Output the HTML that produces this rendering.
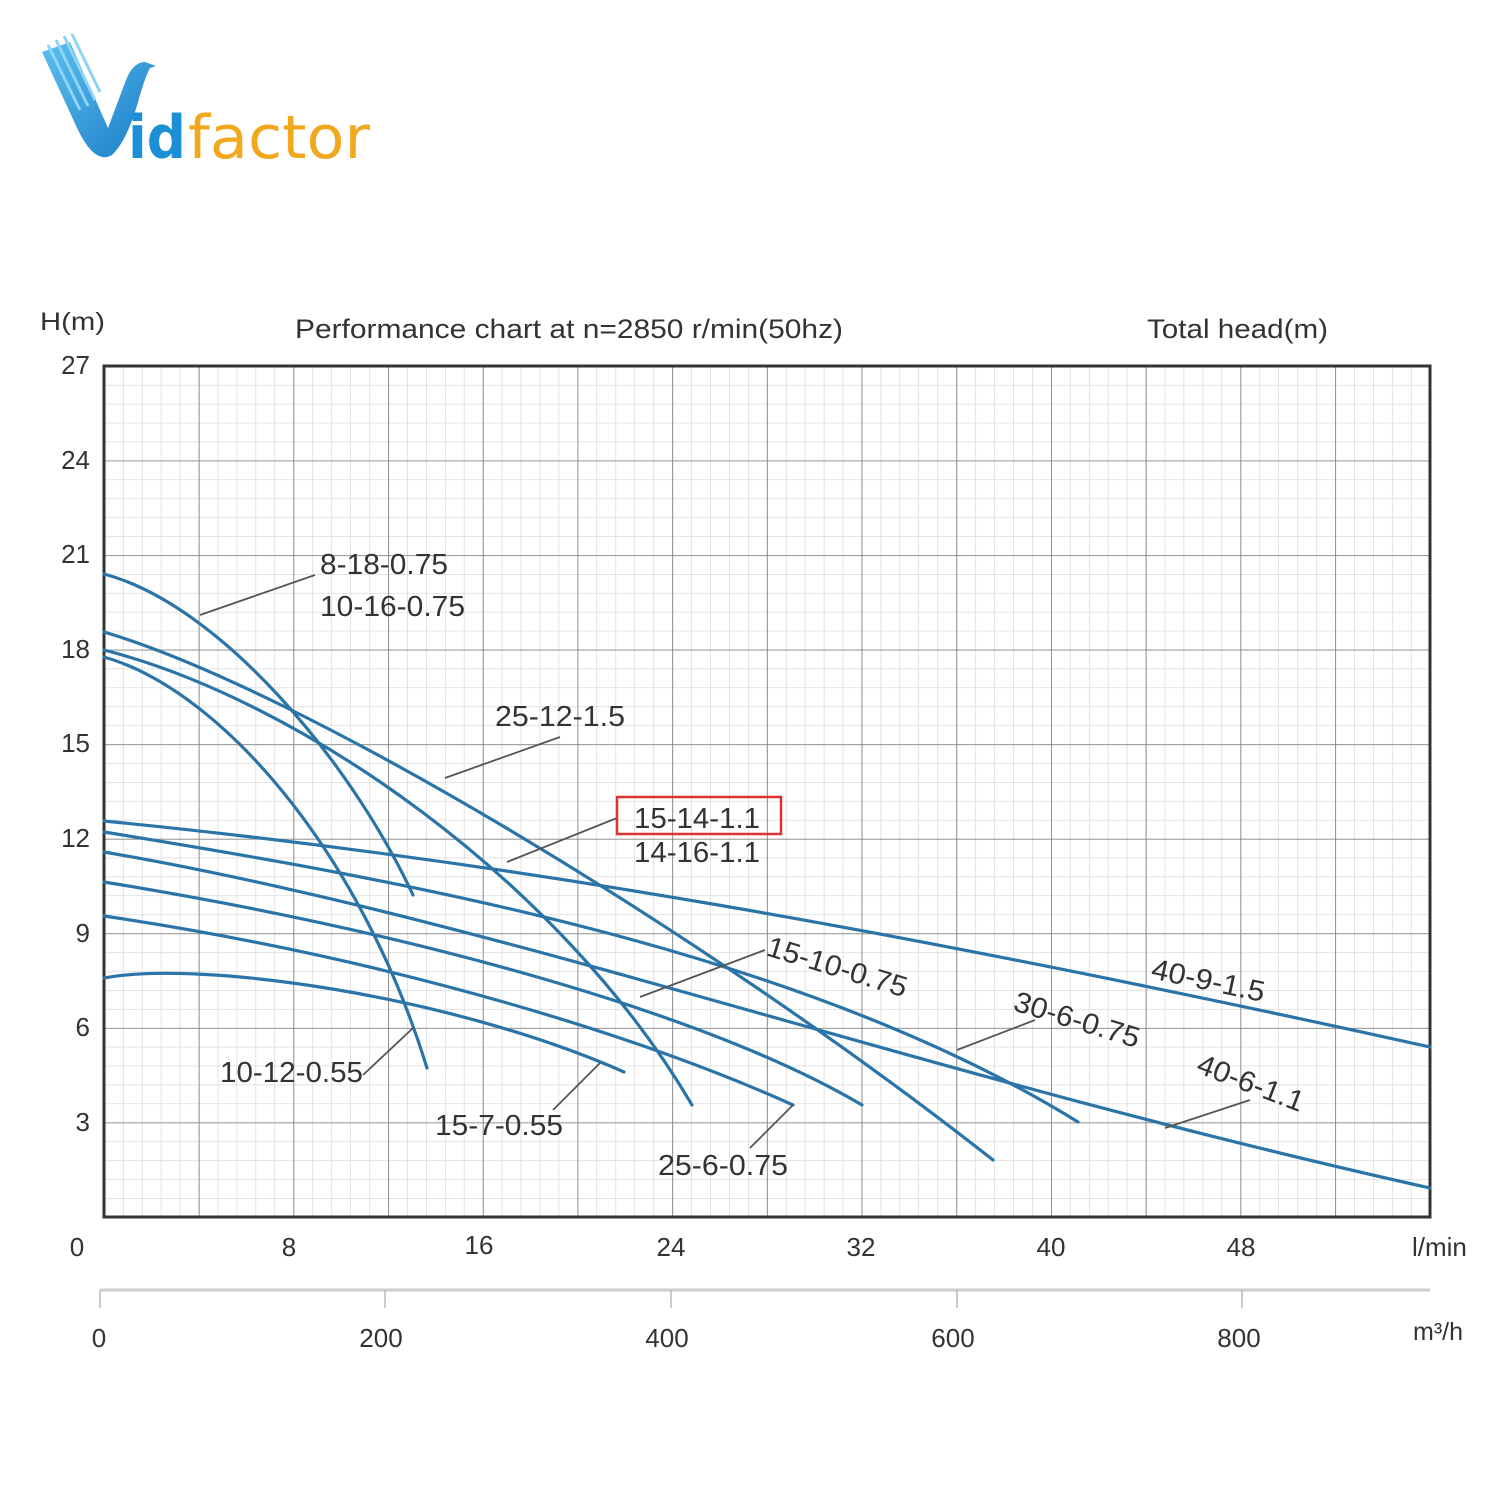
<!DOCTYPE html>
<html><head><meta charset="utf-8"><style>
html,body{margin:0;padding:0;background:#fff;}
svg{display:block;}
text{font-family:"Liberation Sans",sans-serif;fill:#333;}
</style></head><body>
<svg width="1500" height="1500" viewBox="0 0 1500 1500" xmlns="http://www.w3.org/2000/svg">
<defs>
<pattern id="minor" x="104" y="366" width="18.94" height="18.91" patternUnits="userSpaceOnUse">
<path d="M0,0V18.91M0,0H18.94" stroke="#d4d4d4" stroke-width="1.3" fill="none"/>
</pattern>
<pattern id="major" x="104" y="366" width="94.7" height="94.56" patternUnits="userSpaceOnUse">
<path d="M0,0V94.56M0,0H94.7" stroke="#7a7a7a" stroke-width="1.6" fill="none"/>
</pattern>
<linearGradient id="vg" x1="0" y1="0" x2="1" y2="1">
<stop offset="0" stop-color="#5cc0ee"/><stop offset="1" stop-color="#1a7cc8"/>
</linearGradient>
</defs>

<!-- logo -->
<g>
<path d="M42,52 L78,130 Q95,165 112,155 Q128,140 140,95 Q146,75 150,68 L156,66 L145,62 Q133,62 126,80 L108,128 L70,42 Z" fill="url(#vg)"/>
<path d="M48,45 L80,110 M56,40 L88,106 M64,36 L95,100 M72,34 L100,92" stroke="#8fd3f5" stroke-width="3" fill="none"/>
<text x="128" y="158" font-size="60" font-weight="bold" style="fill:#1c8fd6;font-family:'DejaVu Sans',sans-serif" textLength="58" lengthAdjust="spacingAndGlyphs">id</text>
<text x="188" y="158" font-size="60" style="fill:#f2a81d;font-family:'DejaVu Sans',sans-serif" textLength="182" lengthAdjust="spacingAndGlyphs">factor</text>
</g>

<!-- headers -->
<text x="40" y="330" font-size="25" textLength="65" lengthAdjust="spacingAndGlyphs">H(m)</text>
<text x="295" y="338" font-size="27" textLength="548" lengthAdjust="spacingAndGlyphs">Performance chart at n=2850 r/min(50hz)</text>
<text x="1147" y="338" font-size="27" textLength="181" lengthAdjust="spacingAndGlyphs">Total head(m)</text>

<!-- grid -->
<rect x="104" y="366" width="1326" height="851" fill="url(#minor)"/>
<rect x="104" y="366" width="1326" height="851" fill="url(#major)"/>
<rect x="104" y="366" width="1326" height="851" fill="none" stroke="#333" stroke-width="3"/>

<!-- y labels -->
<g font-size="26" text-anchor="end">
<text x="90" y="374">27</text><text x="90" y="469">24</text><text x="90" y="563">21</text>
<text x="90" y="658">18</text><text x="90" y="752">15</text><text x="90" y="847">12</text>
<text x="90" y="942">9</text><text x="90" y="1036">6</text><text x="90" y="1131">3</text>
</g>
<!-- x labels -->
<g font-size="26" text-anchor="middle">
<text x="77" y="1256">0</text><text x="289" y="1256">8</text><text x="479" y="1254">16</text>
<text x="671" y="1256">24</text><text x="861" y="1256">32</text><text x="1051" y="1256">40</text>
<text x="1241" y="1256">48</text>
</g>
<text x="1412" y="1256" font-size="26">l/min</text>
<line x1="100" y1="1290" x2="1430" y2="1290" stroke="#ccc" stroke-width="3"/>
<g stroke="#bbb" stroke-width="1.5">
<line x1="100" y1="1290" x2="100" y2="1308"/><line x1="385" y1="1290" x2="385" y2="1308"/>
<line x1="671" y1="1290" x2="671" y2="1308"/><line x1="957" y1="1290" x2="957" y2="1308"/>
<line x1="1242" y1="1290" x2="1242" y2="1308"/>
</g>
<g font-size="26" text-anchor="middle">
<text x="99" y="1347">0</text><text x="381" y="1347">200</text><text x="667" y="1347">400</text>
<text x="953" y="1347">600</text><text x="1239" y="1347">800</text>
</g>
<text x="1413" y="1340" font-size="25">m³/h</text>

<!-- curves -->
<g fill="none" stroke="#2a74a8" stroke-width="3.2" stroke-linecap="round">
<path d="M104,574 C220,605 350,760 413,895"/>
<path d="M104,657 C220,690 360,850 427,1068"/>
<path d="M104,632 C300,690 700,930 993,1160"/>
<path d="M104,650 C300,700 560,880 692,1105"/>
<path d="M104,821 C500,860 900,930 1430,1047"/>
<path d="M104,832 C400,880 800,950 1078,1122"/>
<path d="M104,852 C500,920 900,1070 1430,1188"/>
<path d="M104,882 C400,930 700,1010 862,1105"/>
<path d="M104,916 C400,960 650,1040 793,1105"/>
<path d="M104,978 C200,960 450,995 624,1072"/>
</g>

<!-- pointers -->
<g stroke="#555" stroke-width="1.8" fill="none">
<path d="M200,615 L315,575"/>
<path d="M445,778 L560,737"/>
<path d="M507,862 L617,818"/>
<path d="M640,997 L765,950"/>
<path d="M957,1050 L1035,1020"/>
<path d="M1165,1128 L1250,1100"/>
<path d="M363,1075 L413,1028"/>
<path d="M553,1110 L600,1063"/>
<path d="M750,1148 L793,1105"/>
</g>

<!-- labels -->
<g font-size="29">
<text x="320" y="574" textLength="128" lengthAdjust="spacingAndGlyphs">8-18-0.75</text>
<text x="320" y="616" textLength="145" lengthAdjust="spacingAndGlyphs">10-16-0.75</text>
<text x="495" y="726" textLength="130" lengthAdjust="spacingAndGlyphs">25-12-1.5</text>
<text x="634" y="828" textLength="126" lengthAdjust="spacingAndGlyphs">15-14-1.1</text>
<text x="634" y="862" textLength="126" lengthAdjust="spacingAndGlyphs">14-16-1.1</text>
<text x="220" y="1082" textLength="143" lengthAdjust="spacingAndGlyphs">10-12-0.55</text>
<text x="435" y="1135" textLength="128" lengthAdjust="spacingAndGlyphs">15-7-0.55</text>
<text x="658" y="1175" textLength="130" lengthAdjust="spacingAndGlyphs">25-6-0.75</text>
<text transform="translate(765,955) rotate(17)" textLength="145" lengthAdjust="spacingAndGlyphs">15-10-0.75</text>
<text transform="translate(1150,978) rotate(12)" textLength="115" lengthAdjust="spacingAndGlyphs">40-9-1.5</text>
<text transform="translate(1012,1010) rotate(17)" textLength="130" lengthAdjust="spacingAndGlyphs">30-6-0.75</text>
<text transform="translate(1195,1072) rotate(21)" textLength="112" lengthAdjust="spacingAndGlyphs">40-6-1.1</text>
</g>
<rect x="617" y="797" width="164" height="37" fill="none" stroke="#d33" stroke-width="2.5"/>
</svg>
</body></html>
